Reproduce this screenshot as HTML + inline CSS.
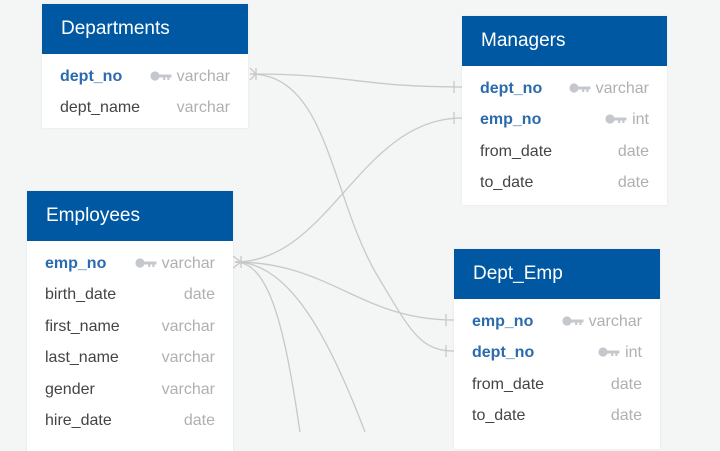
<!DOCTYPE html>
<html><head><style>
body{margin:0;width:720px;height:432px;background:#f4f5f5;position:relative;overflow:hidden;font-family:"Liberation Sans",sans-serif}
.t{position:absolute;background:#fff;box-shadow:0 0 2px rgba(0,0,0,.08)}
.h{height:50px;background:#0058a2;color:#fff;font-size:19px;line-height:50px;padding-left:19px;margin-bottom:7px}
.r{height:31.4px;line-height:31.4px;font-size:16px;color:#444;padding:0 18px 0 18px;position:relative}
.r span{position:absolute;right:18px;color:#b0b0b0;font-weight:normal}
.pk{color:#2a6aad;font-weight:bold}
.k{display:inline-block;width:22px;height:10px;vertical-align:middle;margin-right:5px;position:relative;top:-1px}
svg.l{position:absolute;left:0;top:0}
</style></head><body>
<svg class="l" width="720" height="432" fill="none" stroke="#c8c8c8" stroke-width="1.3">
<path d="M250 74 C350 74 360 87 462 87"/>
<path d="M250 74 C330 74 330 200 380 280 C410 330 420 351 454 351"/>
<path d="M235 262 C330 262 360 118 462 118"/>
<path d="M235 262 C330 262 360 320 454 320"/>
<path d="M235 262 C270 262 285 330 300 432"/>
<path d="M235 262 C290 262 330 340 365 432"/>
<path d="M250 68 L256 74 L250 80 M256 68 V80"/>
<path d="M233 256 L241 262 L233 268 M241 256 V268"/>
<path d="M454 81 V93 M454 112 V124 M446 314 V326 M446 345 V357"/>
</svg>
<svg width="0" height="0" style="position:absolute"><defs><symbol id="key" viewBox="0 0 22 10"><circle cx="5" cy="5" r="4.6" fill="#c4c8cc"/><path d="M9 3.5h12.5v3h-2v2.5h-2.2v-2.5h-2v2.5h-2.2v-2.5H9z" fill="#c4c8cc"/></symbol></defs></svg>
<div class="t" style="left:42px;top:4px;width:206px;height:124px">
<div class="h">Departments</div>
<div class="r pk">dept_no<span><svg class="k"><use href="#key"/></svg>varchar</span></div>
<div class="r">dept_name<span>varchar</span></div>
</div>
<div class="t" style="left:462px;top:16px;width:205px;height:189px">
<div class="h">Managers</div>
<div class="r pk">dept_no<span><svg class="k"><use href="#key"/></svg>varchar</span></div>
<div class="r pk">emp_no<span><svg class="k"><use href="#key"/></svg>int</span></div>
<div class="r">from_date<span>date</span></div>
<div class="r">to_date<span>date</span></div>
</div>
<div class="t" style="left:27px;top:191px;width:206px;height:260px">
<div class="h">Employees</div>
<div class="r pk">emp_no<span><svg class="k"><use href="#key"/></svg>varchar</span></div>
<div class="r">birth_date<span>date</span></div>
<div class="r">first_name<span>varchar</span></div>
<div class="r">last_name<span>varchar</span></div>
<div class="r">gender<span>varchar</span></div>
<div class="r">hire_date<span>date</span></div>
</div>
<div class="t" style="left:454px;top:249px;width:206px;height:200px">
<div class="h">Dept_Emp</div>
<div class="r pk">emp_no<span><svg class="k"><use href="#key"/></svg>varchar</span></div>
<div class="r pk">dept_no<span><svg class="k"><use href="#key"/></svg>int</span></div>
<div class="r">from_date<span>date</span></div>
<div class="r">to_date<span>date</span></div>
</div>
</body></html>
